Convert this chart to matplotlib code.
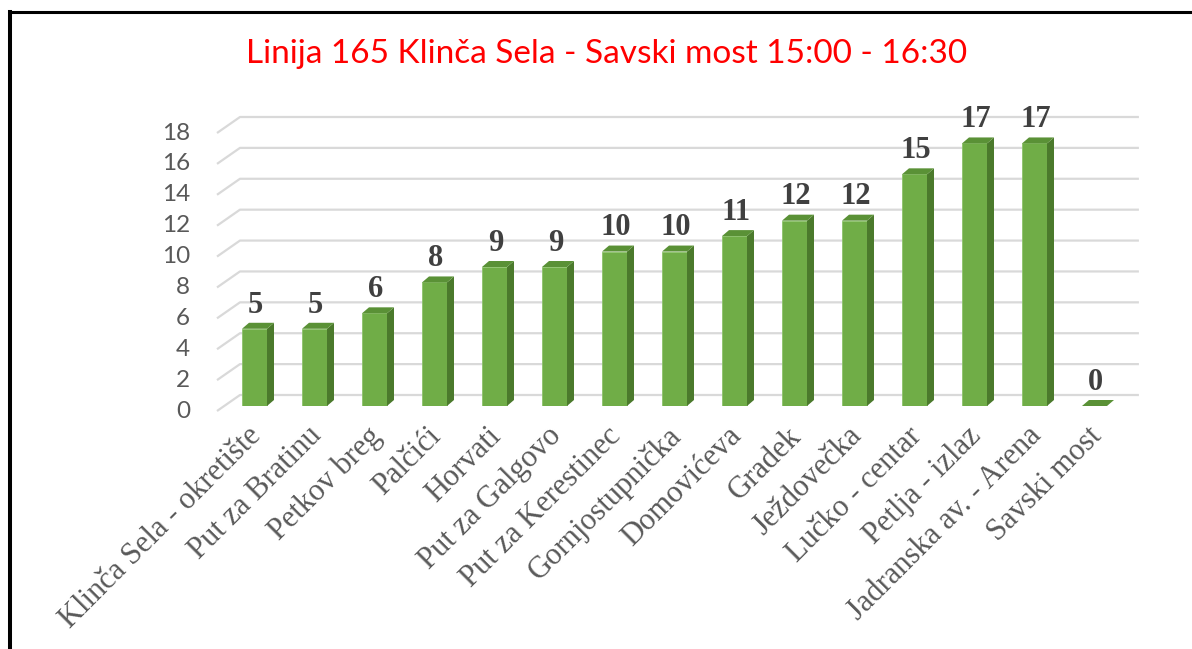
import matplotlib
matplotlib.use("Agg")
import matplotlib.pyplot as plt
from matplotlib.patches import Polygon
from matplotlib.lines import Line2D

stanice = [
    "Klinča Sela - okretište", "Put za Bratinu", "Petkov breg", "Palčići",
    "Horvati", "Put za Galgovo", "Put za Kerestinec", "Gornjostupnička",
    "Domovićeva", "Gradek", "Ježdovečka", "Lučko - centar", "Petlja - izlaz",
    "Jadranska av. - Arena", "Savski most",
]
putnici = [5, 5, 6, 8, 9, 9, 10, 10, 11, 12, 12, 15, 17, 17, 0]
y_ticks = list(range(0, 19, 2))
naslov = "Linija 165 Klinča Sela - Savski most 15:00 - 16:30"

W, H = 1192, 649
fig = plt.figure(figsize=(W / 100, H / 100), dpi=100)
fig.patch.set_facecolor("white")

# os: lijevo 224.5 px, desno 1124.5 px, dno 406 px, vrh 128 px
ax = fig.add_axes([224.5 / W, 1 - 406 / H, 900 / W, 278 / H])
ax.set_xlim(-0.5, 14.5)
ax.set_ylim(0, 18)
ax.axis("off")

# 3D pomaci u jedinicama podataka
sirina = 25 / 60
dubina_x, dubina_y = 7 / 60, 6 / 15.444

# mreža (stražnji zid + kosi dio lijevo)
for v in y_ticks:
    ax.plot([-0.625, -0.242, 14.74], [v - 0.324, v + 0.712, v + 0.712],
            color="#d9d9d9", lw=1.6, zorder=1, clip_on=False,
            solid_capstyle="butt")
    ax.text(-1.075, v - 0.324, str(v), ha="right", va="center",
            fontsize=17.5, color="#595959", family="Lato")

# stupci
for i, v in enumerate(putnici):
    l, r = i - sirina / 2, i + sirina / 2
    if v > 0:
        ax.add_patch(Polygon([(l, 0), (r, 0), (r, v), (l, v)], closed=True,
                             facecolor="#70ad47", edgecolor="#8cc26a",
                             lw=0.6, zorder=3))
        ax.add_patch(Polygon([(r, 0), (r + dubina_x, dubina_y),
                              (r + dubina_x, v + dubina_y), (r, v)],
                             closed=True, facecolor="#4b7a2c",
                             edgecolor="none", zorder=3))
    ax.add_patch(Polygon([(l, v), (r, v), (r + dubina_x, v + dubina_y),
                          (l + dubina_x, v + dubina_y)], closed=True,
                         facecolor="#5a9136", edgecolor="none", zorder=3))
    ax.text(i + 0.02, v + 1.05, str(v), ha="center", va="baseline",
            fontsize=22, fontweight="bold", color="#404040",
            family="Liberation Serif", zorder=4)
    ax.text(i - 0.13, -1.0, stanice[i], ha="right", va="top",
            rotation=45, rotation_mode="anchor", fontsize=22,
            color="#595959", family="Liberation Serif")

fig.text(607 / W, 1 - 54 / H, naslov, ha="center", va="center",
         fontsize=24, color="#ff0000", family="Lato")

# okvir (lijevo i gore)
fig.add_artist(Line2D([10 / W, 10 / W], [0, 1 - 11.5 / H], color="black",
                      lw=2.9, solid_capstyle="projecting"))
fig.add_artist(Line2D([10 / W, 1], [1 - 11.5 / H, 1 - 11.5 / H],
                      color="black", lw=2.2, solid_capstyle="projecting"))

fig.savefig("out.png", dpi=100)
